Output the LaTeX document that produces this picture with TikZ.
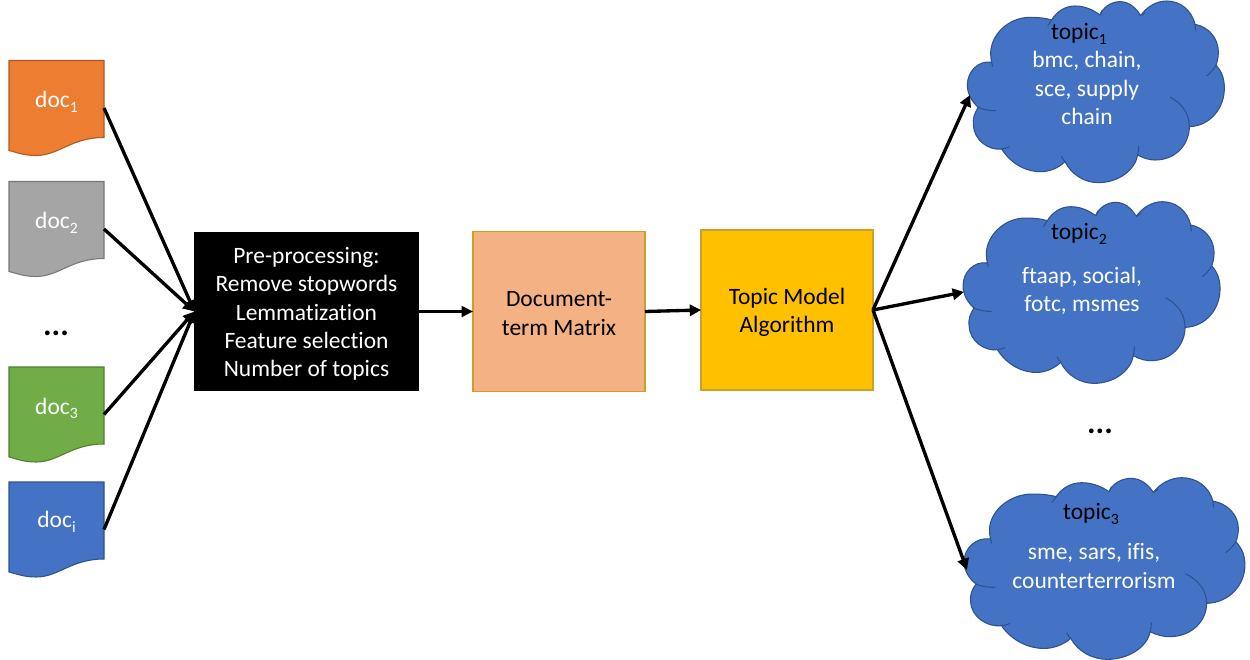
\documentclass[tikz,border=0pt]{standalone}
\usepackage{fontspec}
\setmainfont{Carlito}[Ligatures=NoCommon]
\usetikzlibrary{arrows.meta}
\definecolor{cblue}{HTML}{4472C4}\definecolor{bblue}{HTML}{2F528F}
\definecolor{corange}{HTML}{ED7D31}\definecolor{borange}{HTML}{AE5A21}
\definecolor{cgray}{HTML}{A5A5A5}\definecolor{bgray}{HTML}{787878}
\definecolor{cgreen}{HTML}{70AD47}\definecolor{bgreen}{HTML}{507E32}
\definecolor{cgold}{HTML}{FFC000}\definecolor{bgold}{HTML}{C9A02A}
\definecolor{cpeach}{HTML}{F4B183}
\newcommand{\lowidx}[1]{\raisebox{-0.42ex}{\fontsize{11.8}{12}\selectfont #1}}
\tikzset{
  x=0.75pt,y=-0.75pt,
  txt/.style={font=\fontsize{17.6}{21.15}\selectfont,text=white,align=center,inner sep=0pt,outer sep=0pt},
  blacktxt/.style={txt,text=black},
  dots/.style={txt,text=black,font=\fontsize{24}{24}\selectfont\bfseries},
  procbox/.style={draw=#1,line width=0.9pt,outer sep=0pt,inner sep=0pt},
  docanchor/.style={minimum width=71.25pt,minimum height=71.25pt,inner sep=0pt,outer sep=0pt},
  link/.style={line width=2.5pt,-{Triangle[length=8.5pt,width=8.5pt]}},
  thinlink/.style={line width=1.9pt,-{Triangle[length=8.5pt,width=8pt]}},
}
\newcommand{\docshape}[4]{% x-left, y-top, fill, border
  \begin{scope}[shift={(#1,#2)}]
    \draw[fill=#3,draw=#4,line width=0.8pt] (0,0) -- (95,0) -- (95,77)
      .. controls (62,77) and (50,95) .. (27,95)
      .. controls (15,95) and (8,92) .. (0,90) -- cycle;
  \end{scope}}
\newcommand{\cloudshape}[3]{% shift x, shift y, x factor
  \begin{scope}[shift={(#1,#2)}]
  \begin{scope}[x=#3*0.25pt,y=-0.25pt]
    \draw[fill=cblue,draw=bblue,line width=0.8pt]
      (125,187) .. controls (85,180) and (52,215) .. (52,255)
      .. controls (52,280) and (65,305) .. (85,322)
      .. controls (73,340) and (68,355) .. (70,375)
      .. controls (72,420) and (115,452) .. (155,447)
      .. controls (185,495) and (235,517) .. (275,515)
      .. controls (295,515) and (325,505) .. (345,485)
      .. controls (365,525) and (405,548) .. (445,548)
      .. controls (505,548) and (555,510) .. (563,465)
      .. controls (580,475) and (600,480) .. (615,480)
      .. controls (680,480) and (718,430) .. (718,380)
      .. controls (780,378) and (823,325) .. (823,265)
      .. controls (823,235) and (815,215) .. (798,195)
      .. controls (803,183) and (805,168) .. (805,155)
      .. controls (805,115) and (775,80) .. (735,73)
      .. controls (725,30) and (690,3) .. (650,3)
      .. controls (620,3) and (590,20) .. (572,47)
      .. controls (555,20) and (535,5) .. (510,5)
      .. controls (485,5) and (460,20) .. (450,45)
      .. controls (430,30) and (405,18) .. (375,18)
      .. controls (345,18) and (320,35) .. (305,60)
      .. controls (290,55) and (265,52) .. (240,52)
      .. controls (175,52) and (122,105) .. (122,160)
      .. controls (122,170) and (123,178) .. (125,187) -- cycle;
    \draw[draw=bblue,line width=0.8pt]
      (125,187) -- (128,200)
      (85,322) .. controls (100,330) and (120,332) .. (138,332)
      (155,447) .. controls (165,446) and (170,444) .. (178,440)
      (345,485) .. controls (340,480) and (337,475) .. (334,468)
      (563,465) .. controls (565,455) and (566,450) .. (566,438)
      (718,380) .. controls (718,340) and (695,310) .. (660,291)
      (798,195) .. controls (790,210) and (780,220) .. (770,228)
      (735,73) -- (737,92)
      (572,47) -- (585,38)
      (450,45) -- (457,30)
      (305,60) -- (293,78);
  \end{scope}
  \end{scope}}
\begin{document}
\begin{tikzpicture}
\useasboundingbox (0,0) rectangle (1250,660);
% documents
\docshape{9}{60.5}{corange}{borange}
\docshape{9}{181.5}{cgray}{bgray}
\docshape{9}{367}{cgreen}{bgreen}
\docshape{9}{482}{cblue}{bblue}
\node[docanchor] (d1) at (56.5,108) {};
\node[docanchor] (d2) at (56.5,229) {};
\node[docanchor] (d3) at (56.5,414.5) {};
\node[docanchor] (d4) at (56.5,529.5) {};
\node[txt] (d1t) at (56.5,102) {doc\lowidx{1}};
\node[txt] (d2t) at (56.5,223) {doc\lowidx{2}};
\node[txt] (d3t) at (56.5,408.5) {doc\lowidx{3}};
\node[txt] (d4t) at (56.5,522) {doc\lowidx{i}};
\node[dots] (dd1) at (56,333) {...};
% process
\node[procbox=black,fill=black,minimum width=168pt,minimum height=118.5pt] (pre) at (306.5,311.5) {};
\node[txt] (pret) at (306.5,314) {Pre-processing:\\Remove stopwords\\Lemmatization\\Feature selection\\Number of topics};
\node[procbox=bgold,fill=cpeach,minimum width=129pt,minimum height=120.5pt] (dtm) at (559,311.5) {};
\node[blacktxt] (dtmt) at (559,313.5) {Document-\\term Matrix};
\node[procbox=bgold,fill=cgold,minimum width=129pt,minimum height=120pt] (alg) at (787,310) {};
\node[blacktxt] (algt) at (787,312.5) {Topic Model\\Algorithm};
% clouds
\cloudshape{950}{0}{1}
\cloudshape{945.7}{200.7}{1}
\cloudshape{945.05}{476.7}{1.093}
\coordinate (c1) at (970,95);
\coordinate (c2) at (964,292);
\coordinate (c3) at (967,570);
\node[blacktxt] (t1h) at (1079,34) {topic\lowidx{1}};
\node[txt] (t1) at (1087,88) {bmc, chain,\\sce, supply\\chain};
\node[blacktxt] (t2h) at (1079,234) {topic\lowidx{2}};
\node[txt] (t2) at (1082,291) {ftaap, social,\\fotc, msmes};
\node[blacktxt] (t3h) at (1091,514) {topic\lowidx{3}};
\node[txt] (t3) at (1094,566) {sme, sars, ifis,\\counterterrorism};
\node[dots] (dd2) at (1100,431) {...};
% connectors
\draw[link] (d1.east) -- (pre.west);
\draw[link] (d2.east) -- (pre.west);
\draw[link] (d3.east) -- (pre.west);
\draw[link] (d4.east) -- (pre.west);
\draw[thinlink] (pre.east) -- (dtm.west);
\draw[link] (dtm.east) -- (alg.west);
\draw[link] (alg.east) -- (c1);
\draw[link] (alg.east) -- (c2);
\draw[link] (alg.east) -- (c3);
\end{tikzpicture}
\end{document}
